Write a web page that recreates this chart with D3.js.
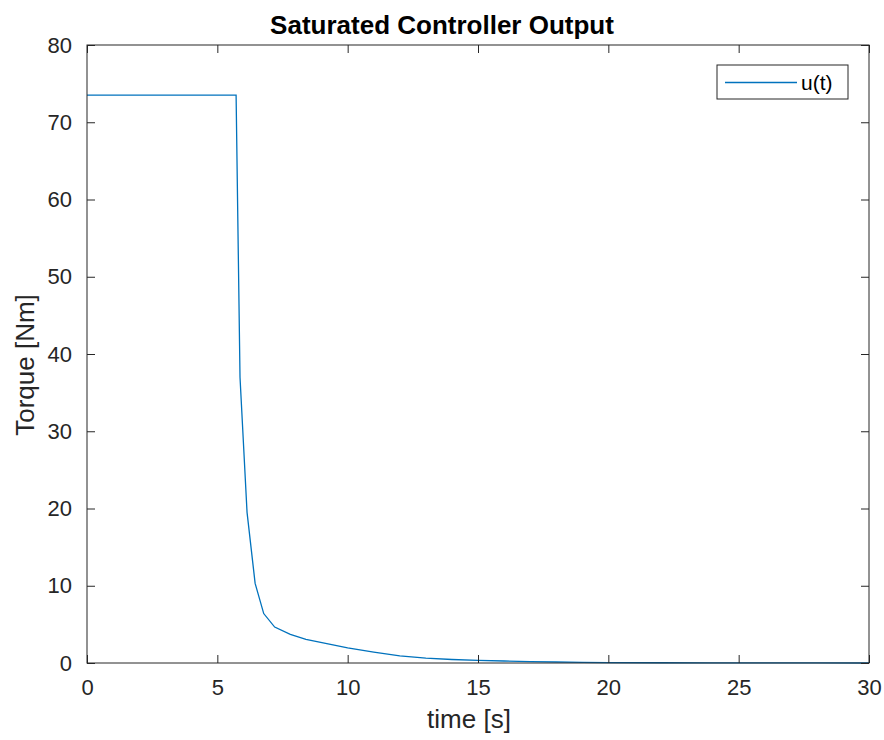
<!DOCTYPE html>
<html>
<head>
<meta charset="utf-8">
<script src="https://cdn.jsdelivr.net/npm/d3@7"></script>
<style>
  body { margin: 0; background: #fff; }
  svg { font-family: "Liberation Sans", Arial, Helvetica, sans-serif; }
  .tick text { fill: #262626; }
</style>
</head>
<body>
<div id="chart"></div>
<script>
// data
const timeS = [0, 5.72, 5.87, 6.14, 6.45, 6.78, 7.2, 7.8, 8.4, 9.2, 10, 11, 12, 13, 14, 15, 16, 17, 18, 19, 20, 22, 24, 26, 28, 30];
const torque = [73.5, 73.5, 37, 19.5, 10.3, 6.4, 4.65, 3.7, 3.05, 2.5, 1.95, 1.4, 0.92, 0.63, 0.45, 0.34, 0.26, 0.19, 0.13, 0.09, 0.06, 0.03, 0.015, 0.008, 0.004, 0.002];
const xTicks = [0, 5, 10, 15, 20, 25, 30];
const yTicks = [0, 10, 20, 30, 40, 50, 60, 70, 80];

const W = 884;
const H = 740;
const margin = { top: 45, right: 15, bottom: 77, left: 87 };
const width = W - margin.left - margin.right;
const height = H - margin.top - margin.bottom;
const TICK = 8;
const AXIS = '#262626';
const LINE = '#0072BD';

const data = timeS.map((t, i) => ({ t, u: torque[i] }));

const scaleX = d3.scaleLinear().domain([0, 30]).range([0, width]);
const scaleY = d3.scaleLinear().domain([0, 80]).range([height, 0]);

const $svg = d3.select('#chart').append('svg')
  .attr('width', W)
  .attr('height', H);

const $vis = $svg.append('g')
  .attr('transform', `translate(${margin.left}, ${margin.top})`);

// line
const generateLine = d3.line()
  .x(d => scaleX(d.t))
  .y(d => scaleY(d.u));

$vis.append('path')
  .datum(data)
  .attr('fill', 'none')
  .attr('stroke', LINE)
  .attr('stroke-width', 1.3)
  .attr('d', generateLine);

// axes, ticks pointing inwards on all four sides
function styleAxis($g) {
  $g.select('.domain').remove();
  $g.selectAll('.tick line').attr('stroke', AXIS);
  $g.selectAll('.tick text').style('font-size', '22px');
}

$vis.append('g')
  .attr('transform', `translate(0, ${height})`)
  .call(d3.axisBottom(scaleX).tickValues(xTicks).tickSize(-TICK).tickPadding(16))
  .call(styleAxis);

$vis.append('g')
  .call(d3.axisTop(scaleX).tickValues(xTicks).tickSize(-TICK).tickFormat(''))
  .call(styleAxis);

$vis.append('g')
  .call(d3.axisLeft(scaleY).tickValues(yTicks).tickSize(-TICK).tickPadding(15))
  .call(styleAxis);

$vis.append('g')
  .attr('transform', `translate(${width}, 0)`)
  .call(d3.axisRight(scaleY).tickValues(yTicks).tickSize(-TICK).tickFormat(''))
  .call(styleAxis);

// box
$vis.append('rect')
  .attr('width', width)
  .attr('height', height)
  .attr('fill', 'none')
  .attr('stroke', AXIS)
  .attr('stroke-width', 1);

// labels
$svg.append('text')
  .attr('x', 442)
  .attr('y', 34)
  .attr('text-anchor', 'middle')
  .style('font-size', '26px')
  .style('font-weight', 'bold')
  .attr('fill', '#000')
  .text('Saturated Controller Output');

$svg.append('text')
  .attr('x', 469)
  .attr('y', 728)
  .attr('text-anchor', 'middle')
  .style('font-size', '26px')
  .attr('fill', AXIS)
  .text('time [s]');

$svg.append('text')
  .attr('transform', 'translate(34, 365) rotate(-90)')
  .attr('text-anchor', 'middle')
  .style('font-size', '26px')
  .attr('fill', AXIS)
  .text('Torque [Nm]');

// legend
const $legend = $svg.append('g').attr('transform', 'translate(717, 65)');
$legend.append('rect')
  .attr('width', 131)
  .attr('height', 34)
  .attr('fill', '#fff')
  .attr('stroke', AXIS)
  .attr('stroke-width', 1);
$legend.append('line')
  .attr('x1', 8).attr('x2', 80)
  .attr('y1', 17.5).attr('y2', 17.5)
  .attr('stroke', LINE)
  .attr('stroke-width', 1.3);
$legend.append('text')
  .attr('x', 84)
  .attr('y', 25)
  .style('font-size', '21px')
  .attr('fill', '#000')
  .text('u(t)');
</script>
</body>
</html>
